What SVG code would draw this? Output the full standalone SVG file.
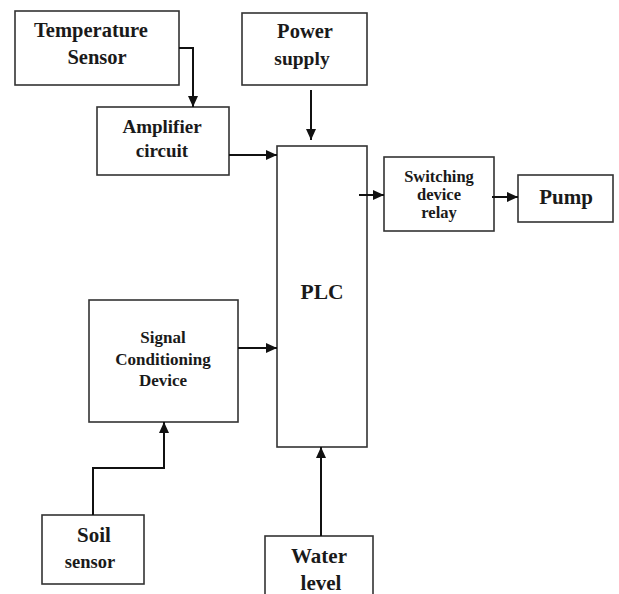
<svg xmlns="http://www.w3.org/2000/svg" width="619" height="594" viewBox="0 0 619 594">
<defs>
<marker id="ah" markerUnits="userSpaceOnUse" markerWidth="12" markerHeight="10" refX="11" refY="5" orient="auto">
<path d="M0,0 L11,5 L0,10 Z" fill="#111"/>
</marker>
<style>
.box{fill:#fff;stroke:#333;stroke-width:1.6}
.t{font-family:"Liberation Serif","Times New Roman",serif;font-weight:bold;fill:#1a1a1a;text-anchor:middle}
.c{fill:none;stroke:#111;stroke-width:2}
</style>
</defs>
<rect width="619" height="594" fill="#fff"/>
<g id="temperature-sensor">
<rect class="box" x="15" y="11" width="164" height="74"/>
<text class="t" x="91" y="37" font-size="20.5">Temperature</text>
<text class="t" x="97" y="64" font-size="20.5">Sensor</text>
</g>
<g id="amplifier-circuit">
<rect class="box" x="97" y="107" width="132" height="68"/>
<text class="t" x="162" y="133" font-size="19">Amplifier</text>
<text class="t" x="162" y="157" font-size="19">circuit</text>
</g>
<g id="power-supply">
<rect class="box" x="242" y="13" width="125" height="72"/>
<text class="t" x="305" y="38" font-size="20.5">Power</text>
<text class="t" x="302" y="65" font-size="19.5">supply</text>
</g>
<g id="plc">
<rect class="box" x="277" y="146" width="90" height="301"/>
<text class="t" x="322" y="299" font-size="21.5">PLC</text>
</g>
<g id="switching-device-relay">
<rect class="box" x="384" y="157" width="110" height="74"/>
<text class="t" x="439" y="182" font-size="16.5">Switching</text>
<text class="t" x="439" y="200" font-size="16.5">device</text>
<text class="t" x="439" y="218" font-size="16.5">relay</text>
</g>
<g id="pump">
<rect class="box" x="518" y="175" width="95" height="47"/>
<text class="t" x="566" y="204" font-size="21">Pump</text>
</g>
<g id="signal-conditioning-device">
<rect class="box" x="89" y="300" width="149" height="122"/>
<text class="t" x="163" y="343" font-size="17">Signal</text>
<text class="t" x="163" y="365" font-size="17">Conditioning</text>
<text class="t" x="163" y="386" font-size="17">Device</text>
</g>
<g id="soil-sensor">
<rect class="box" x="42" y="515" width="102" height="69"/>
<text class="t" x="94" y="542" font-size="21">Soil</text>
<text class="t" x="90" y="568" font-size="18.5">sensor</text>
</g>
<g id="water-level">
<rect class="box" x="265" y="536" width="108" height="70"/>
<text class="t" x="319" y="563" font-size="21">Water</text>
<text class="t" x="321" y="590" font-size="21">level</text>
</g>
<g id="connectors">
<path class="c" d="M179,48 H193 V107" marker-end="url(#ah)"/>
<path class="c" d="M311,90 V140" marker-end="url(#ah)"/>
<path class="c" d="M229,155 H277" marker-end="url(#ah)"/>
<path class="c" d="M359,195 H384" marker-end="url(#ah)"/>
<path class="c" d="M492,197 H518" marker-end="url(#ah)"/>
<path class="c" d="M238,348 H277" marker-end="url(#ah)"/>
<path class="c" d="M93,515 V468 H164 V422" marker-end="url(#ah)"/>
<path class="c" d="M321,536 V447" marker-end="url(#ah)"/>
</g>
</svg>
